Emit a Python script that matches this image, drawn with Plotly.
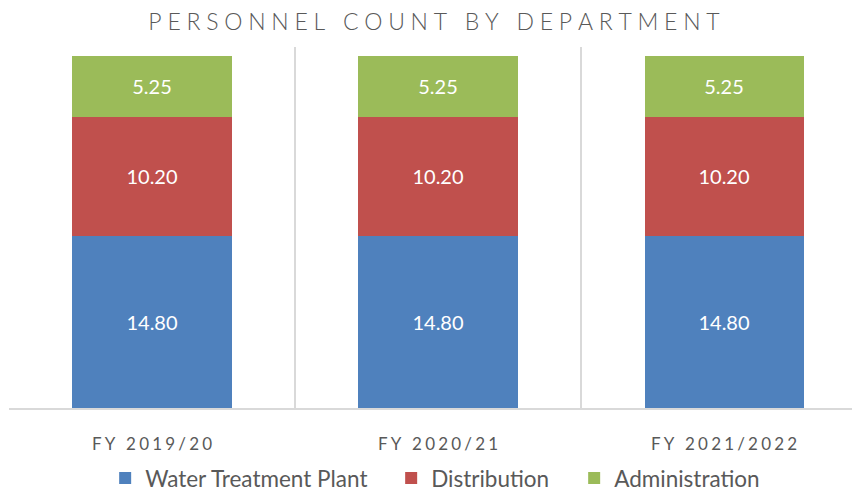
import plotly.graph_objects as go

# fiscal years and headcount per department (FTE)
years = ["FY 2019/20", "FY 2020/21", "FY 2021/2022"]
water_plant = [14.80, 14.80, 14.80]
distribution = [10.20, 10.20, 10.20]
administration = [5.25, 5.25, 5.25]

TEXT_GRAY = "#595959"
GRID_GRAY = "#d9d9d9"
FONT = "Lato, 'Open Sans', sans-serif"
WIDE = "\u2009\u200a"  # thin + hair space between letters


def spaced(s, gap=WIDE):
    # mimic the wide letter spacing of the original title/axis labels
    return gap.join(s)


# name, values, colour, legend entry width (px)
series = [
    ("Water Treatment Plant", water_plant, "#4f81bd", 241),
    ("Distribution", distribution, "#c0504d", 138),
    ("Administration", administration, "#9bbb59", 150),
]

fig = go.Figure()
for name, vals, color, lw in series:
    fig.add_trace(go.Bar(
        x=years, y=vals, name=name,
        marker=dict(color=color, line=dict(width=0)),
        texttemplate="%{y:.2f}", textposition="inside",
        insidetextanchor="middle", constraintext="none",
        textfont=dict(color="white", size=20, family=FONT),
        legendwidth=lw,
        hoverinfo="skip",
    ))

# page body has an 8px default margin, so the figure is 8px smaller than the window
fig.update_layout(
    barmode="stack",
    bargap=0.444,
    width=852, height=483,
    margin=dict(l=1, r=0, t=39, b=83, autoexpand=False),
    paper_bgcolor="white", plot_bgcolor="white",
    font=dict(family=FONT, color=TEXT_GRAY),
    title=dict(
        text=spaced("PERSONNEL COUNT BY DEPARTMENT", "\u2009\u200a\u200a"),
        x=0.5, xanchor="center", y=0.972, yanchor="middle",
        font=dict(size=23, color=TEXT_GRAY, family=FONT, weight=300),
    ),
    legend=dict(
        orientation="h", x=0.113, xanchor="left", y=-0.195, yanchor="middle",
        traceorder="normal", font=dict(size=22.5, color=TEXT_GRAY),
        itemclick=False, itemwidth=30,
    ),
    showlegend=True,
)

fig.update_xaxes(
    range=[-0.5, 2.4755],
    tickvals=years, ticktext=[spaced(y) for y in years],
    tickson="boundaries", ticks="",
    showgrid=True, gridcolor=GRID_GRAY, gridwidth=2,
    showline=True, linecolor=GRID_GRAY, linewidth=2,
    tickfont=dict(size=17, color=TEXT_GRAY),
    ticklabelstandoff=20,
)
fig.update_yaxes(
    range=[0, 31], showgrid=False, showticklabels=False,
    zeroline=False, showline=False,
)

fig.write_html("out.html")
